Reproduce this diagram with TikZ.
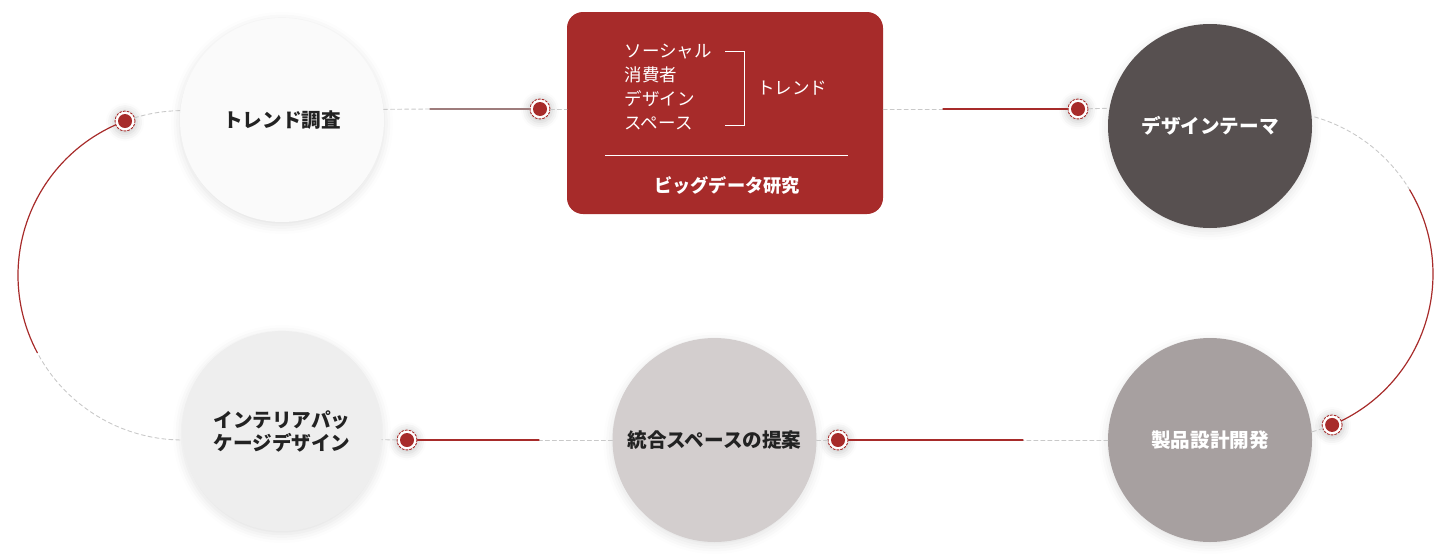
\documentclass[tikz,border=0pt]{standalone}
\usepackage{fontspec}
\setmainfont{Noto Sans CJK JP}
\usetikzlibrary{positioning, shadows.blur}

\definecolor{brick}{HTML}{A72B2A}
\definecolor{rust}{HTML}{9E7C7C}
\definecolor{mist}{HTML}{C9C9C9}
\definecolor{ink}{HTML}{222222}

\tikzset{
    stage/.style={circle, minimum size=204pt, inner sep=0pt, align=center, text=ink,
        font=\bfseries\fontsize{19.6}{23}\selectfont,
        blur shadow={shadow xshift=0pt, shadow yshift=-3pt, shadow blur radius=9pt, shadow opacity=12}},
    panel/.style={rectangle, rounded corners=16pt, fill=brick, minimum width=316pt, minimum height=202pt},
    paneltext/.style={text=white, inner sep=0pt, font=\fontsize{17.5}{24}\selectfont},
    relay/.style={circle, minimum size=20pt, inner sep=0pt, fill=white, draw=brick, line width=0.9pt,
        dash pattern=on 2.2pt off 1.6pt,
        path picture={\fill[brick] (path picture bounding box.center) circle[radius=7pt];},
        blur shadow={shadow xshift=0pt, shadow yshift=-1pt, shadow blur radius=6pt, shadow opacity=20, shadow scale=1.2}},
    guide/.style={mist, line width=0.9pt, dash pattern=on 4pt off 3pt},
    flow/.style={brick, line width=1.2pt},
}

\begin{document}
\begin{tikzpicture}[x=1pt,y=-1pt,cap=round]
        \useasboundingbox (0,0) rectangle (1440,557);

        % arc centres and the points where the lines turn red
        \coordinate (lc) at (182.7,275.3);
        \coordinate (rc) at (1269.6,274);
        \coordinate (t1) at (430,109);
        \coordinate (t2) at (943,109);
        \coordinate (t3) at (1023,440);
        \coordinate (t4) at (539,440);

        % draw the stages
        \node[stage, fill={rgb,255:red,250;green,250;blue,250}] (trend) at (282,120) {トレンド調査};
        \node[stage, fill={rgb,255:red,87;green,80;blue,80}, text=white] (theme) at (1210,126) {デザインテーマ};
        \node[stage, fill={rgb,255:red,167;green,160;blue,160}, text=white] (product) at (1210,440) {製品設計開発};
        \node[stage, fill={rgb,255:red,211;green,206;blue,206}] (space) at (714.5,440) {統合スペースの提案};
        \node[stage, fill={rgb,255:red,238;green,238;blue,238}, minimum size=200pt] (interior) at (282,431) {インテリアパッ\\ケージデザイン};

        % draw the red panel
        \node[panel] (bigdata) at (725,113) {};
        \node[paneltext, align=left, anchor=west] (sources) at (624.5,87.5) {ソーシャル\\消費者\\デザイン\\スペース};
        \draw[white, line width=1pt, cap=butt] (725,51) -| (744,125) -- (725,125);
        \node[paneltext, anchor=west] (trendtag) at (757,88) {トレンド};
        \draw[white, line width=1pt, cap=butt] (605,155) -- (848,155);
        \node[paneltext, font=\bfseries\fontsize{18.2}{24}\selectfont] (bdtitle) at (727,185) {ビッグデータ研究};

        % draw the dots
        \node[relay] (d1) at (540,109) {};
        \node[relay] (d2) at (1078,109) {};
        \node[relay] (d3) at ([shift={(67.5:163.4)}]rc) {};
        \node[relay] (d4) at (838,440) {};
        \node[relay] (d5) at (407,440) {};
        \node[relay] (d6) at ([shift={(249.5:164.7)}]lc) {};

        % top row
        \draw[guide] (trend.6) -- (t1);
        \draw[flow, rust] (t1) -- (d1);
        \draw[guide] (d1) -- (d1 -| bigdata.west);
        \draw[guide] (d2 -| bigdata.east) -- (t2);
        \draw[flow] (t2) -- (d2);
        \draw[guide] (d2) -- (theme.170);

        % right arc
        \draw[guide] ([shift={(-74:163.4)}]rc) arc[start angle=-74, end angle=-31, radius=163.4];
        \draw[flow] ([shift={(-31:163.4)}]rc) arc[start angle=-31, end angle=64, radius=163.4];
        \draw[guide] ([shift={(71:163.4)}]rc) arc[start angle=71, end angle=75, radius=163.4];

        % bottom row
        \draw[guide] (product) -- (t3);
        \draw[flow] (t3) -- (d4);
        \draw[guide] (d4) -- (space);
        \draw[guide] (space) -- (t4);
        \draw[flow] (t4) -- (d5);
        \draw[guide] (d5) -- (interior.-5);

        % left arc
        \draw[guide] ([shift={(91:164.7)}]lc) arc[start angle=91, end angle=152, radius=164.7];
        \draw[flow] ([shift={(152:164.7)}]lc) arc[start angle=152, end angle=246, radius=164.7];
        \draw[guide] ([shift={(253:164.7)}]lc) arc[start angle=253, end angle=269, radius=164.7];
\end{tikzpicture}
\end{document}
